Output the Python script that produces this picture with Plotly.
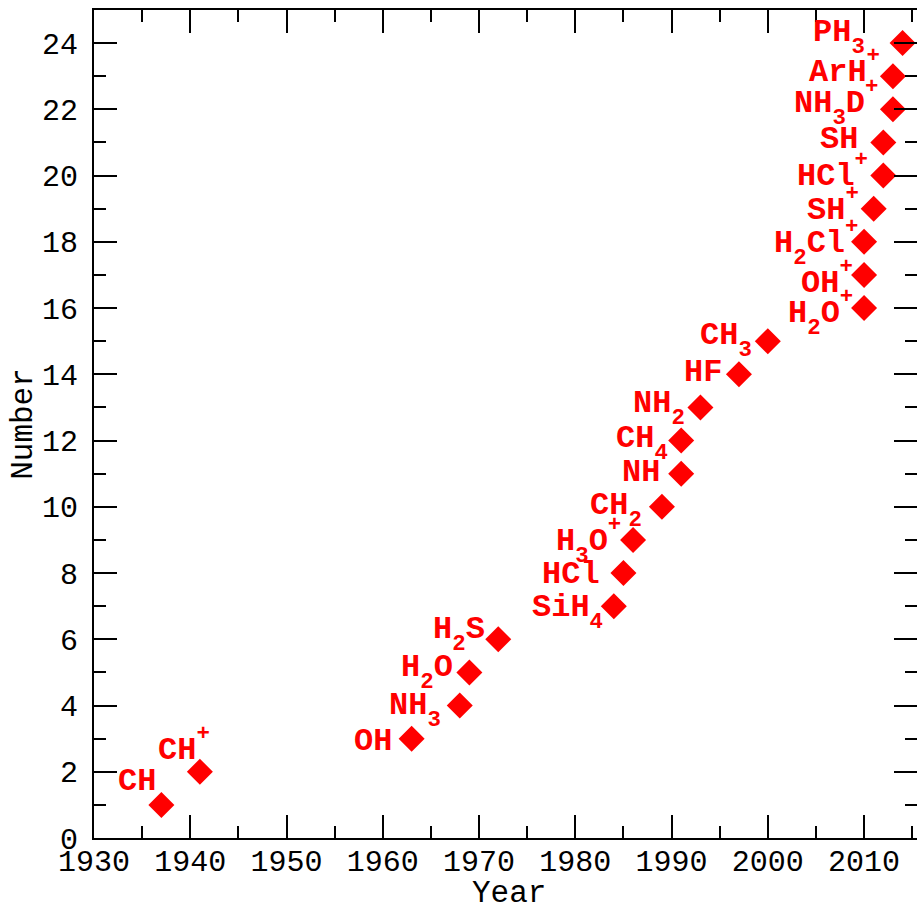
import plotly.graph_objects as go

years = [1937, 1941, 1963, 1968, 1969, 1972, 1984, 1985, 1986, 1989, 1991, 1991,
         1993, 1997, 2000, 2010, 2010, 2010, 2011, 2012, 2012, 2013, 2013, 2014]
numbers = list(range(1, 25))


def sb(s):
    return '<span style="font-size:70%;baseline-shift:-12px">' + s + '</span>'


def sp(s):
    return '<span style="font-size:70%;baseline-shift:19px">' + s + '</span>'


labels = ["CH", "CH" + sp("+"), "OH", "NH" + sb("3"), "H" + sb("2") + "O", "H" + sb("2") + "S",
          "SiH" + sb("4"), "HCl", "H" + sb("3") + "O" + sp("+"), "CH" + sb("2"), "NH",
          "CH" + sb("4"), "NH" + sb("2"), "HF", "CH" + sb("3"), "H" + sb("2") + "O" + sp("+"),
          "OH" + sp("+"), "H" + sb("2") + "Cl" + sp("+"), "SH" + sp("+"), "HCl" + sp("+"), "SH",
          "NH" + sb("3") + "D" + sp("+"), "ArH" + sp("+"), "PH" + sb("3")]

# label pixel offsets (right edge dx, centre dy screen-down) relative to marker
dxs = [-3, 12, -18, -17, -14, -11, -9, -21, -10, -18, -19, -11, -13, -15, -14, -9, -9, -4, -13, -13, -23, -13, -11, -36]
dys = [-23, -23, 3, -1, -5, -10, 1, 1, 0, -2, -1, -3, -4, -2, -6, 3, 7, 0, 0, -1, -3, -8, -5, -11]

fig = go.Figure()
fig.add_trace(go.Scatter(x=years, y=numbers, mode="markers",
                         marker=dict(symbol="diamond", size=20, color="#ff0000",
                                     line=dict(width=0)),
                         showlegend=False, hoverinfo="skip"))

for x, y, t, dx, dy in zip(years, numbers, labels, dxs, dys):
    # compensate for the text box growing with sub/superscripts
    corr = 0
    if "-12px" in t:
        corr += 5
    if "19px" in t:
        corr -= 4
    fig.add_annotation(x=x, y=y, xref="x", yref="y", text="<b>" + t + "</b>",
                       showarrow=False, xanchor="right", yanchor="middle",
                       xshift=dx, yshift=-(dy + corr),
                       font=dict(family="Liberation Mono", size=32, color="#ff0000"))

tickfont = dict(family="Liberation Mono", size=30, color="black")
titlefont = dict(family="Liberation Mono", size=31, color="black")
axis_common = dict(showgrid=False, zeroline=False, showline=True, linecolor="black",
                   linewidth=2, ticks="inside", ticklen=23, tickwidth=2, tickcolor="black",
                   mirror="ticks", tickfont=tickfont, automargin=True)

fig.update_xaxes(range=[1930, 2015.5], tickmode="linear", tick0=1930, dtick=10,
                 minor=dict(ticks="inside", ticklen=12, tickwidth=2, tickcolor="black", dtick=5,
                            showgrid=False),
                 ticklabelstandoff=-5,
                 **axis_common)
fig.update_yaxes(range=[0, 25], tickmode="linear", tick0=0, dtick=2,
                 minor=dict(ticks="inside", ticklen=12, tickwidth=2, tickcolor="black", dtick=1,
                            showgrid=False),
                 title=dict(text="Number", font=titlefont, standoff=0),
                 ticklabelstandoff=8,
                 **axis_common)

# x-axis title placed as a paper-anchored annotation for precise position
fig.add_annotation(x=0.5, y=0, xref="paper", yref="paper", text="Year", showarrow=False,
                   xanchor="center", yanchor="top", yshift=-36, xshift=3,
                   font=titlefont)

fig.update_layout(width=917, height=906, margin=dict(l=94, r=0, t=10, b=68, autoexpand=False),
                  paper_bgcolor="white", plot_bgcolor="white")

fig.write_html("out.html")
